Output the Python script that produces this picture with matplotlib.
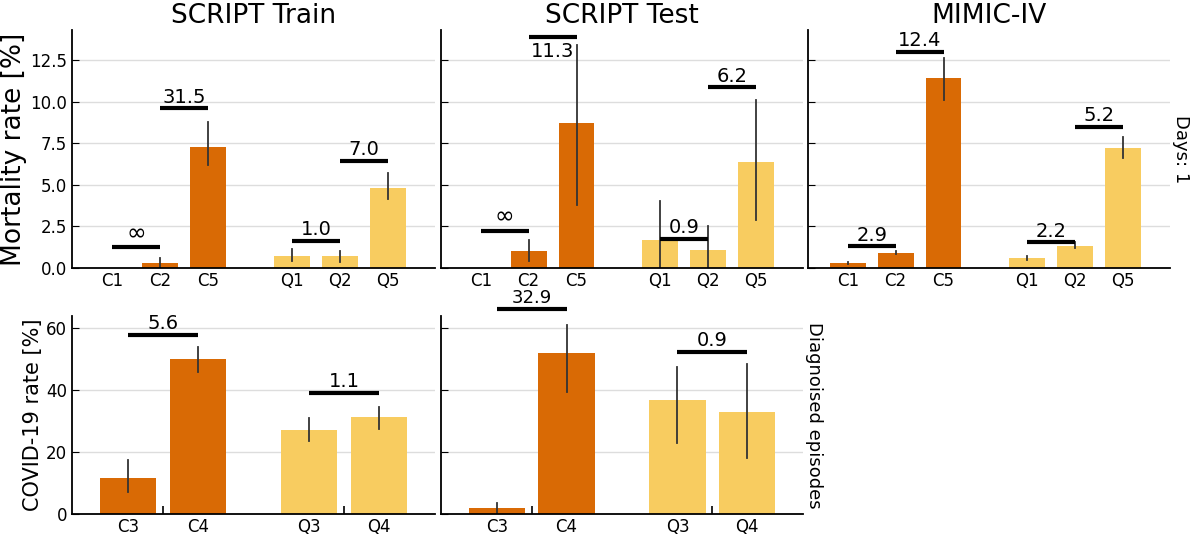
import matplotlib
matplotlib.use("Agg")
import matplotlib.pyplot as plt
import numpy as np

DARK = "#D96A05"
LIGHT = "#F8CC60"

top_cats = ["C1", "C2", "C5", "Q1", "Q2", "Q5"]
top_titles = ["SCRIPT Train", "SCRIPT Test", "MIMIC-IV"]
top_vals = [[0.0, 0.3, 7.25, 0.75, 0.7, 4.8],
            [0.0, 1.0, 8.7, 1.7, 1.1, 6.35],
            [0.3, 0.9, 11.4, 0.6, 1.35, 7.2]]
top_lo = [[0.0, 0.0, 6.2, 0.45, 0.35, 4.15],
          [0.0, 0.4, 3.8, 0.0, 0.0, 2.9],
          [0.25, 0.82, 10.1, 0.5, 1.2, 6.6]]
top_hi = [[0.0, 0.6, 8.8, 1.15, 1.05, 5.7],
          [0.0, 1.7, 13.4, 4.0, 2.5, 10.1],
          [0.38, 1.0, 12.6, 0.7, 1.55, 7.9]]
# brackets: (i, j, y, label)
top_br = [[(0, 1, 1.25, "∞"), (1, 2, 9.6, "31.5"), (3, 4, 1.65, "1.0"), (4, 5, 6.45, "7.0")],
          [(0, 1, 2.25, "∞"), (1, 2, 13.85, "11.3"), (3, 4, 1.75, "0.9"), (4, 5, 10.85, "6.2")],
          [(0, 1, 1.3, "2.9"), (1, 2, 13.0, "12.4"), (3, 4, 1.55, "2.2"), (4, 5, 8.5, "5.2")]]

bot_cats = ["C3", "C4", "Q3", "Q4"]
bot_vals = [[11.7, 50.0, 27.3, 31.2], [2.0, 52.0, 37.0, 33.0]]
bot_lo = [[7.0, 46.0, 23.5, 27.5], [0.0, 39.5, 23.0, 18.0]]
bot_hi = [[17.5, 54.0, 31.0, 34.5], [3.5, 61.0, 47.5, 48.5]]
bot_br = [[(0, 1, 58.0, "5.6"), (2, 3, 39.0, "1.1")],
          [(0, 1, 66.3, "32.9"), (2, 3, 52.5, "0.9")]]

top_x = np.array([0, 1, 2, 3.75, 4.75, 5.75])
bot_x = np.array([0, 1, 2.59, 3.59])
top_cols = [DARK] * 3 + [LIGHT] * 3
bot_cols = [DARK] * 2 + [LIGHT] * 2

W, H = 1200, 539
fig = plt.figure(figsize=(12, 5.39), dpi=100)

def ax_px(x0, y0, x1, y1):
    return fig.add_axes([x0 / W, 1 - y1 / H, (x1 - x0) / W, (y1 - y0) / H])

def style(ax, labels, xs, ylabels):
    for s in ["top", "right"]:
        ax.spines[s].set_visible(False)
    ax.spines["left"].set_linewidth(1.3)
    ax.spines["bottom"].set_linewidth(1.3)
    ax.set_xticks(xs)
    ax.set_xticklabels(labels, fontsize=12)
    ax.tick_params(axis="x", length=0, pad=3)
    ax.tick_params(axis="y", direction="in", length=5, labelsize=12, labelleft=ylabels)
    ax.yaxis.grid(True, color="#dddddd", linewidth=1)
    ax.set_axisbelow(True)

lefts = [(72, 435), (441, 803), (808, 1170)]
for k in range(3):
    ax = ax_px(lefts[k][0], 30, lefts[k][1], 268)
    v = np.array(top_vals[k])
    ax.bar(top_x, v, width=0.75, color=top_cols)
    for xi, lo, hi in zip(top_x, top_lo[k], top_hi[k]):
        if hi > lo:
            ax.plot([xi, xi], [lo, hi], color="#333333", lw=1.3)
    ax.set_xlim(-0.83, 6.73)
    ax.set_ylim(0, 14.3)
    ax.set_yticks([0, 2.5, 5, 7.5, 10, 12.5])
    ax.set_yticklabels(["0.0", "2.5", "5.0", "7.5", "10.0", "12.5"])
    style(ax, top_cats, top_x, k == 0)
    ax.set_title(top_titles[k], fontsize=19, pad=5)
    for i, j, y, lab in top_br[k]:
        ax.plot([top_x[i], top_x[j]], [y, y], color="black", lw=3, clip_on=False, solid_capstyle="butt")
        if k == 1 and lab == "11.3":
            ax.text((top_x[i] + top_x[j]) / 2, y - 0.25, lab, ha="center", va="top", fontsize=14)
        else:
            ax.text((top_x[i] + top_x[j]) / 2, y + 0.1, lab, ha="center", va="bottom",
                    fontsize=17 if lab == "∞" else 14)
    if k == 0:
        ax.set_ylabel("Mortality rate [%]", fontsize=19, labelpad=2)
    if k == 2:
        ax.text(1.03, 0.5, "Days: 1", transform=ax.transAxes, rotation=-90,
                ha="center", va="center", fontsize=13)

for k in range(2):
    ax = ax_px(lefts[k][0], 316, lefts[k][1], 514)
    v = np.array(bot_vals[k])
    ax.bar(bot_x, v, width=0.81, color=bot_cols)
    for xi, lo, hi in zip(bot_x, bot_lo[k], bot_hi[k]):
        ax.plot([xi, xi], [lo, hi], color="#333333", lw=1.3)
    ax.set_xlim(-0.8, 4.39)
    ax.set_ylim(0, 64)
    ax.set_yticks([0, 20, 40, 60])
    style(ax, bot_cats, bot_x, k == 0)
    ax.set_xticks([0.5, 3.09], minor=True)
    ax.tick_params(axis="x", which="minor", direction="in", length=6, width=1.2)
    for i, j, y, lab in bot_br[k]:
        ax.plot([bot_x[i], bot_x[j]], [y, y], color="black", lw=3, clip_on=False, solid_capstyle="butt")
        ax.text((bot_x[i] + bot_x[j]) / 2, y + 0.6, lab, ha="center", va="bottom",
                fontsize=13 if lab == "32.9" else 14)
    if k == 0:
        ax.set_ylabel("COVID-19 rate [%]", fontsize=15, labelpad=2)
    if k == 1:
        ax.text(1.03, 0.5, "Diagnoised episodes", transform=ax.transAxes, rotation=-90,
                ha="center", va="center", fontsize=13)

fig.savefig("out.png", dpi=100)
